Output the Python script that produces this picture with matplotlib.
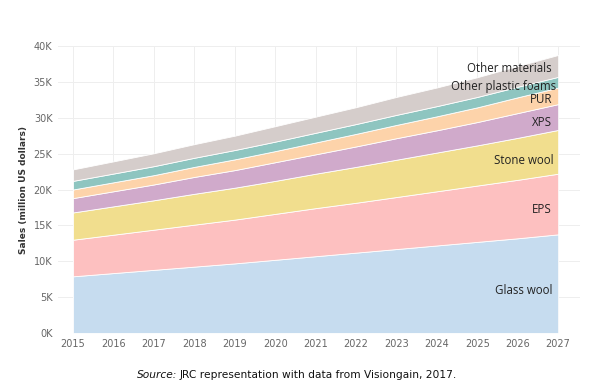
import numpy as np
import matplotlib.pyplot as plt
from matplotlib.ticker import FuncFormatter

years = list(range(2015, 2028))

# sales, million US dollars
glass_wool = [7.9, 8.35, 8.8, 9.25, 9.7, 10.2, 10.7, 11.2, 11.7, 12.2, 12.7, 13.2, 13.75]
eps = [5.1, 5.35, 5.6, 5.85, 6.1, 6.4, 6.7, 6.95, 7.25, 7.55, 7.85, 8.15, 8.45]
stone_wool = [3.8, 3.95, 4.1, 4.3, 4.45, 4.6, 4.8, 5.0, 5.2, 5.4, 5.6, 5.85, 6.1]
xps = [2.0, 2.1, 2.2, 2.35, 2.45, 2.6, 2.7, 2.85, 3.0, 3.1, 3.25, 3.45, 3.6]
pur = [1.2, 1.25, 1.3, 1.4, 1.5, 1.55, 1.65, 1.75, 1.85, 1.95, 2.05, 2.2, 2.3]
other_foams = [1.2, 1.22, 1.25, 1.27, 1.3, 1.32, 1.35, 1.37, 1.4, 1.42, 1.45, 1.47, 1.5]
other_materials = [1.6, 1.7, 1.8, 1.9, 2.0, 2.15, 2.25, 2.35, 2.5, 2.6, 2.75, 2.9, 3.05]

series = [glass_wool, eps, stone_wool, xps, pur, other_foams, other_materials]
names = ["Glass wool", "EPS", "Stone wool", "XPS", "PUR",
         "Other plastic foams", "Other materials"]
colors = ["#c6dcef", "#fdc0c0", "#f1de8e", "#d0aacb", "#fdd3aa", "#8ec5c0", "#d5cdcb"]

fig = plt.figure(figsize=(6.01, 3.89), dpi=100)
ax = fig.add_axes([58 / 601, 56 / 389, 522 / 601, 287 / 389])

vals = np.array(series) * 1000
ax.stackplot(years, vals, colors=colors, edgecolor="white", linewidth=0.6, zorder=2)

ax.set_xlim(2014.63, 2027.54)
ax.set_ylim(0, 40000)
ax.set_xticks(years)
ax.set_yticks(range(0, 40001, 5000))
ax.yaxis.set_major_formatter(FuncFormatter(lambda v, p: f"{int(v / 1000)}K"))
ax.tick_params(length=0, labelsize=7, labelcolor="#666666", pad=4)
ax.grid(True, color="#eeeeee", linewidth=0.7, zorder=0)
for s in ax.spines.values():
    s.set_visible(False)

ax.set_ylabel("Sales (million US dollars)", fontsize=6.5, color="#333333",
              fontweight="bold", labelpad=4)

# in-chart labels at the right edge
label_pos = {
    "Other materials": (2026.85, 36850),
    "Other plastic foams": (2026.95, 34400),
    "PUR": (2026.85, 32550),
    "XPS": (2026.85, 29350),
    "Stone wool": (2026.9, 24050),
    "EPS": (2026.85, 17250),
    "Glass wool": (2026.85, 5950),
}
for name in names:
    x, y = label_pos[name]
    ax.text(x, y, name, ha="right", va="center", fontsize=8.3,
            family="Open Sans", color="#222222", zorder=3)

fig.text(177 / 601, 14 / 389, "Source:", style="italic", ha="right",
         va="center", fontsize=7.7, color="#111111")
fig.text(180 / 601, 14 / 389, "JRC representation with data from Visiongain, 2017.",
         ha="left", va="center", fontsize=7.7, color="#111111")

fig.savefig("out.png", dpi=100)
